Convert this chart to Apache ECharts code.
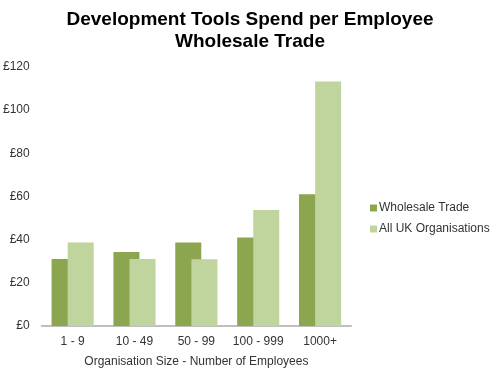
<!DOCTYPE html>
<html><head><meta charset="utf-8">
<script src="https://cdn.jsdelivr.net/npm/echarts@6/dist/echarts.min.js"></script>
<style>html,body{margin:0;padding:0;background:#fff}#c{width:500px;height:379px}</style>
</head><body><div id="c"></div>
<script>
var categories = ['1 - 9', '10 - 49', '50 - 99', '100 - 999', '1000+'];
var wholesaleTrade = [31, 34.3, 38.7, 41, 61];
var allUkOrganisations = [38.7, 31, 30.9, 53.7, 113.3];
var seriesNames = ['Wholesale Trade', 'All UK Organisations'];

var font = 'Liberation Sans, Arial, sans-serif';
var chart = echarts.init(document.getElementById('c'));
chart.setOption({
  animation: false,
  backgroundColor: '#fff',
  title: {
    text: 'Development Tools Spend per Employee\nWholesale Trade',
    left: 'center', top: 9, padding: 0,
    textStyle: { fontFamily: font, fontSize: 19, fontWeight: 'bold', color: '#000', lineHeight: 22 }
  },
  legend: {
    orient: 'vertical', left: 370, top: 202, padding: 0,
    itemWidth: 7, itemHeight: 7, itemGap: 9, icon: 'rect',
    textStyle: { fontFamily: font, fontSize: 12, color: '#333', padding: [0, 0, 0, -3] },
    data: seriesNames
  },
  grid: { left: 41, right: 149, top: 67, bottom: 53 },
  xAxis: {
    type: 'category', data: categories,
    axisLine: { lineStyle: { color: '#BFBFBF', width: 2 } },
    axisTick: { show: false },
    axisLabel: { fontFamily: font, fontSize: 12, color: '#333', margin: 10, interval: 0 },
    name: 'Organisation Size - Number of Employees',
    nameLocation: 'middle', nameGap: 30,
    nameTextStyle: { fontFamily: font, fontSize: 12, color: '#333' }
  },
  yAxis: {
    type: 'value', min: 0, max: 120, interval: 20,
    axisLine: { show: false }, axisTick: { show: false },
    splitLine: { show: false },
    axisLabel: { fontFamily: font, fontSize: 12, color: '#333', margin: 12, formatter: '£{value}' }
  },
  series: [
    { name: seriesNames[0], type: 'bar', data: wholesaleTrade, barWidth: 26, barGap: '-38%',
      itemStyle: { color: '#8BA64F' } },
    { name: seriesNames[1], type: 'bar', data: allUkOrganisations, barWidth: 26,
      itemStyle: { color: '#C0D49E' } }
  ]
});
</script></body></html>
